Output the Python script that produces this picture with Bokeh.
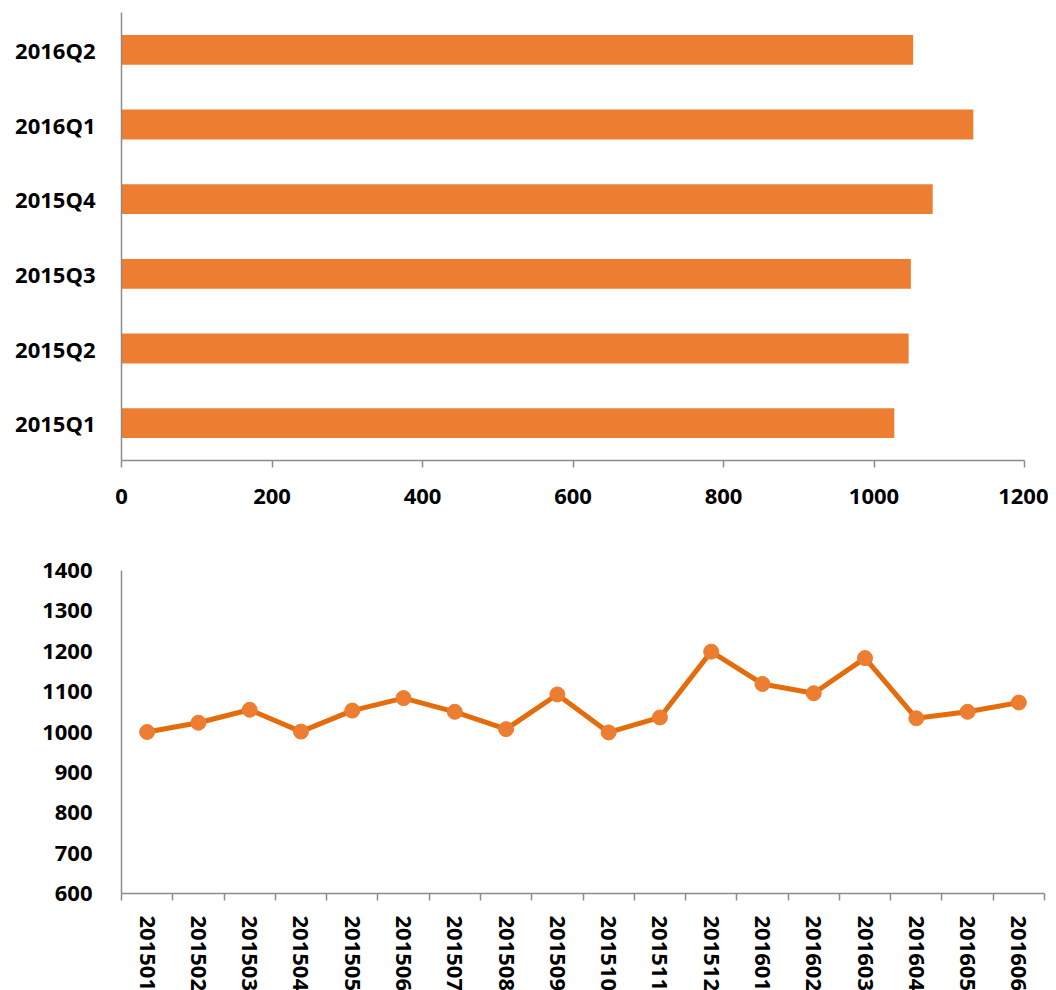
from bokeh.plotting import figure
from bokeh.layouts import column
from bokeh.models import FactorRange, Range1d, FixedTicker
from bokeh.embed import file_html
from bokeh.resources import INLINE

quarters = ["2015Q1", "2015Q2", "2015Q3", "2015Q4", "2016Q1", "2016Q2"]
quarter_values = [1027, 1046, 1049, 1078, 1132, 1052]

months = ["201501", "201502", "201503", "201504", "201505", "201506",
          "201507", "201508", "201509", "201510", "201511", "201512",
          "201601", "201602", "201603", "201604", "201605", "201606"]
month_values = [1000, 1023, 1055, 1001, 1053, 1084, 1050, 1007, 1093, 999,
                1036, 1199, 1119, 1096, 1183, 1034, 1050, 1073]

x_ticks_top = [0, 200, 400, 600, 800, 1000, 1200]
y_ticks_bottom = [600, 700, 800, 900, 1000, 1100, 1200, 1300, 1400]

BAR = "#ED7D31"
LINE = "#E46C0A"
AXIS = "#8C8C8C"
FONT = "Open Sans"
FS = "22px"

# ---------- top: horizontal bar chart ----------
p1 = figure(y_range=FactorRange(*quarters, range_padding=0),
            x_range=Range1d(0, 1200),
            frame_width=903, frame_height=448,
            min_border_left=121, min_border_top=12, min_border_right=24,
            min_border_bottom=70,
            output_backend="svg", toolbar_location=None)
p1.hbar(y=quarters, right=quarter_values, height=0.4, color=BAR, line_color=None)
p1.outline_line_color = None
p1.grid.visible = False

p1.xaxis.ticker = FixedTicker(ticks=x_ticks_top)
p1.xaxis.axis_line_color = AXIS
p1.xaxis.axis_line_width = 1.5
p1.xaxis.major_tick_line_color = AXIS
p1.xaxis.major_tick_line_width = 1.5
p1.xaxis.major_tick_in = 0
p1.xaxis.major_tick_out = 7
p1.xaxis.minor_tick_line_color = None
p1.xaxis.major_label_standoff = 21
p1.yaxis.axis_line_color = AXIS
p1.yaxis.axis_line_width = 1.5
p1.yaxis.major_tick_line_color = None
p1.yaxis.major_tick_out = 0
p1.yaxis.major_label_standoff = 26
for ax in (p1.xaxis, p1.yaxis):
    ax.major_label_text_font = FONT
    ax.major_label_text_font_style = "bold"
    ax.major_label_text_font_size = FS
    ax.major_label_text_color = "black"

# ---------- bottom: line chart ----------
xs = [i + 0.5 for i in range(len(months))]
p2 = figure(x_range=Range1d(0, len(months)), y_range=Range1d(600, 1400),
            frame_width=923, frame_height=323,
            min_border_left=120, min_border_top=40, min_border_right=10,
            min_border_bottom=20,
            output_backend="svg", toolbar_location=None)
p2.line(xs, month_values, line_color=LINE, line_width=5)
p2.scatter(xs, month_values, size=15, fill_color=BAR, line_color=BAR)
p2.outline_line_color = None
p2.grid.visible = False

p2.xaxis.ticker = FixedTicker(ticks=xs, minor_ticks=list(range(len(months) + 1)))
p2.xaxis.major_label_overrides = {x: m for x, m in zip(xs, months)}
p2.xaxis.major_label_orientation = -1.5707963
p2.xaxis.axis_line_color = AXIS
p2.xaxis.axis_line_width = 1.5
p2.xaxis.major_tick_line_color = None
p2.xaxis.major_tick_in = 0
p2.xaxis.major_tick_out = 0
p2.xaxis.minor_tick_line_color = AXIS
p2.xaxis.minor_tick_line_width = 1.5
p2.xaxis.minor_tick_in = 0
p2.xaxis.minor_tick_out = 7
p2.xaxis.major_label_standoff = 15

p2.yaxis.ticker = FixedTicker(ticks=y_ticks_bottom)
p2.yaxis.axis_line_color = AXIS
p2.yaxis.axis_line_width = 1.5
p2.yaxis.major_tick_line_color = None
p2.yaxis.minor_tick_line_color = None
p2.yaxis.major_tick_out = 0
p2.yaxis.major_tick_in = 0
p2.yaxis.major_label_standoff = 29
for ax in (p2.xaxis, p2.yaxis):
    ax.major_label_text_font = FONT
    ax.major_label_text_font_style = "bold"
    ax.major_label_text_font_size = FS
    ax.major_label_text_color = "black"

layout = column(p1, p2, spacing=0)
open("out.html", "w").write(file_html(layout, INLINE))
